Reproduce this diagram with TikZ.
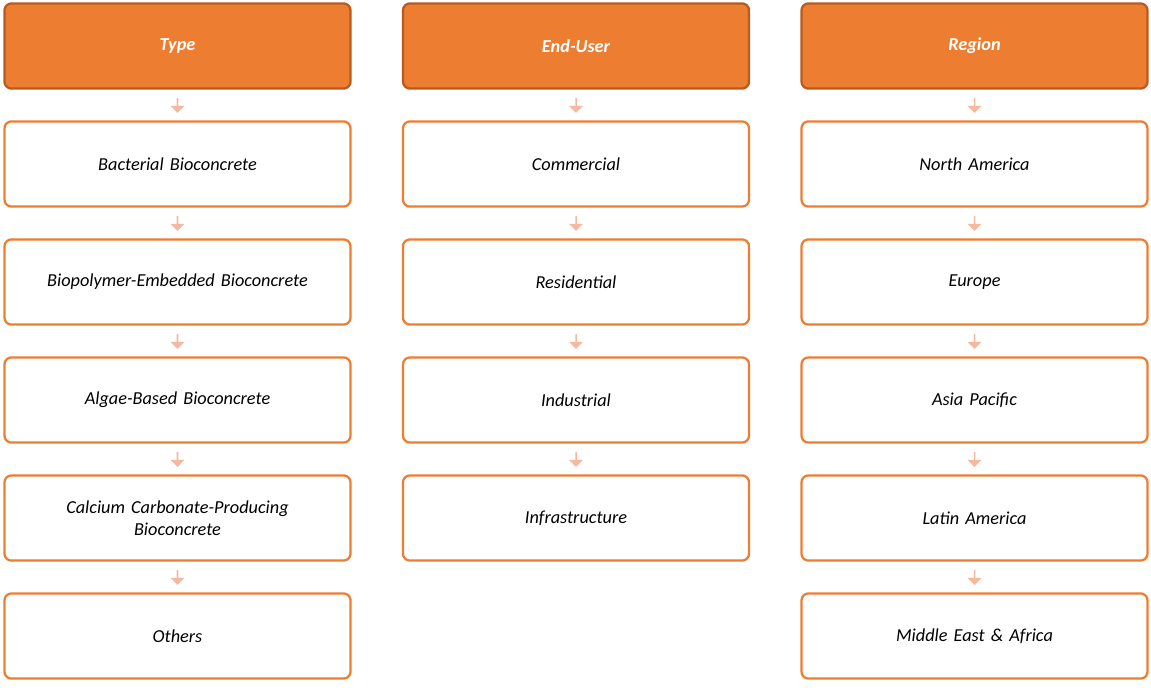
\documentclass[tikz,border=0pt]{standalone}
\usepackage{fontspec}
\setmainfont{Carlito}
\usetikzlibrary{shapes.arrows,positioning,calc}
\definecolor{hdrfill}{HTML}{ED7D31}
\definecolor{hdrline}{HTML}{B85A1E}
\definecolor{arrfill}{HTML}{F4B9A0}

\begin{document}
\begin{tikzpicture}[
    x=0.025cm, y=-0.025cm,
    hdr/.style={rectangle, draw=hdrline, fill=hdrfill, line width=1.6pt, rounded corners=5pt, minimum width=8.65cm, minimum height=2.13cm, font=\fontsize{13}{15}\selectfont\bfseries\itshape, text=white},
    item/.style={rectangle, draw=hdrfill, fill=white, line width=1.6pt, rounded corners=5pt, minimum width=8.65cm, minimum height=2.13cm, align=center, text width=8.2cm, font=\fontsize{13}{15.5}\selectfont\itshape},
    down/.style={single arrow, draw=none, fill=arrfill, shape border rotate=270, minimum height=0.38cm, minimum width=0.36cm, single arrow head extend=0.06cm, inner sep=0pt}
]
    \useasboundingbox (0,0) rectangle (1151,692);

    % column headers
    \node[hdr] (type) at (177.5,46) {Type};
    \node[hdr] (user) at (576,46) {End-User};
    \node[hdr] (region) at (974.5,46) {Region};

    % segment boxes
    \foreach \col/\x/\names in {
        type/177.5/{Bacterial Bioconcrete,Biopolymer-Embedded Bioconcrete,Algae-Based Bioconcrete,{Calcium Carbonate-Producing\\Bioconcrete},Others},
        user/576/{Commercial,Residential,Industrial,Infrastructure},
        region/974.5/{North America,Europe,Asia Pacific,Latin America,Middle East \& Africa}} {
        \foreach \name [count=\i, remember=\i as \j (initially 0)] in \names {
            \node[item] (\col\i) at (\x,46+118*\i) {\name};
            \ifnum\j=0
                \node[down] at ($(\col.south)!0.5!(\col\i.north)$) {};
            \else
                \node[down] at ($(\col\j.south)!0.5!(\col\i.north)$) {};
            \fi
        }
    }
\end{tikzpicture}
\end{document}
